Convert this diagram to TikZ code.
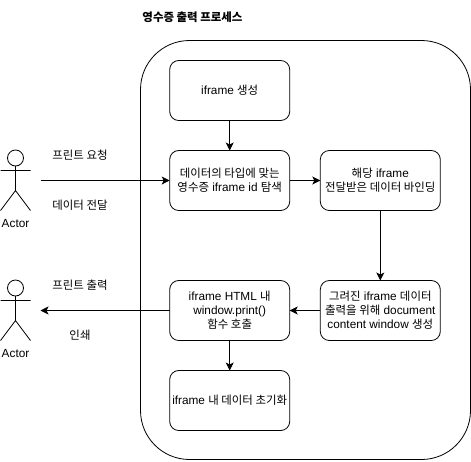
\documentclass[tikz,border=0pt]{standalone}
\usepackage{fontspec}
\setmainfont{Liberation Sans}
\newfontfamily\kr[Scale=0.97]{Noto Sans CJK KR}
\usetikzlibrary{arrows.meta, positioning}
\tikzstyle{stepbox} = [rectangle, rounded corners=9pt, minimum width=120pt, minimum height=60pt, align=center, inner sep=0pt, outer sep=0pt, draw=black, line width=0.8pt, font=\fontsize{11.8}{14}\selectfont]
\tikzstyle{label} = [align=center, inner sep=0pt, font=\fontsize{11.8}{14}\selectfont]
\tikzstyle{arrow} = [line width=0.8pt, -{Stealth[length=8pt,width=8pt,inset=2pt]}]
\tikzset{actorman/.pic={
  \draw[line width=0.8pt] (0,-8) circle (8pt);
  \draw[line width=0.8pt] (0,-16) -- (0,-40.5) (-15,-20.5) -- (15,-20.5) (-15,-60.5) -- (0,-40.5) -- (15,-60.5);
}}

\begin{document}
\begin{tikzpicture}[x=1pt, y=1pt, node distance=30pt]
\useasboundingbox (0,0) rectangle (471,-461);

\draw [rounded corners=49pt, line width=0.8pt] (140.5,-40.5) rectangle (470.5,-459.5);
\node (title) [label, font=\fontsize{11.8}{14}\selectfont\bfseries] at (192.5,-17) {\kr 영수증 출력 프로세스};

\node (create) [stepbox] at (229.7,-90.5) {iframe {\kr 생성}};
\node (search) [stepbox, below=of create] {{\kr 데이터의 타입에 맞는}\\{\kr 영수증} iframe id {\kr 탐색}};
\node (bind) [stepbox, right=30.6pt of search] {{\kr 해당} iframe\\{\kr 전달받은 데이터 바인딩}};
\node (window) [stepbox, below=70pt of bind] {{\kr 그려진} iframe {\kr 데이터}\\{\kr 출력을 위해} document\\content window {\kr 생성}};
\node (print) [stepbox, left=30.6pt of window] {iframe HTML {\kr 내}\\window.print()\\{\kr 함수 호출}};
\node (reset) [stepbox, below=of print] {iframe {\kr 내 데이터 초기화}};

\pic at (15.5,-150) {actorman};
\pic at (15.5,-280) {actorman};
\node (actorin) [label] at (15.5,-223.5) {Actor};
\node (actorout) [label] at (15.5,-353.5) {Actor};
\coordinate (reqstart) at (40.5,-180.5);
\coordinate (outend) at (40.5,-310.5);

\node (request) [label] at (80,-155.5) {\kr 프린트 요청};
\node (data) [label] at (80,-205.5) {\kr 데이터 전달};
\node (output) [label] at (80,-285.5) {\kr 프린트 출력};
\node (paper) [label] at (80,-335.5) {\kr 인쇄};

\draw [arrow] (reqstart) -- (search);
\draw [arrow] (create) -- (search);
\draw [arrow] (search) -- (bind);
\draw [arrow] (bind) -- (window);
\draw [arrow] (window) -- (print);
\draw [arrow] (print) -- (outend);
\draw [arrow] (print) -- (reset);
\end{tikzpicture}
\end{document}
